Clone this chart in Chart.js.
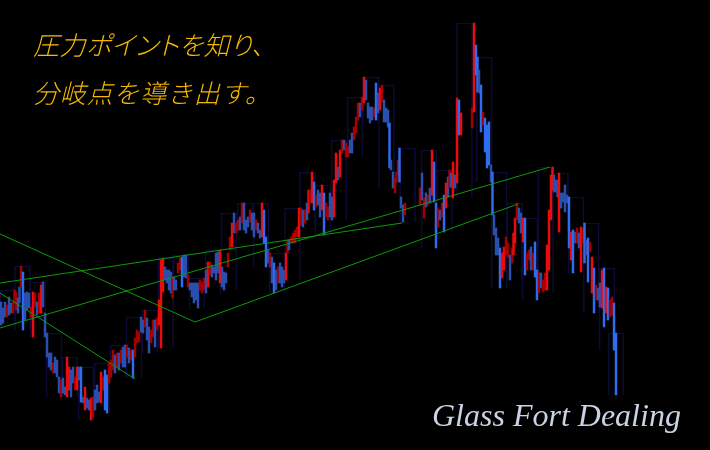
<!DOCTYPE html>
<html>
<head>
<meta charset="utf-8">
<script src="https://cdn.jsdelivr.net/npm/chart.js@4.4.1/dist/chart.umd.min.js"></script>
<style>
  html, body { margin: 0; padding: 0; background: #000; }
  #wrap { position: relative; width: 710px; height: 450px; overflow: hidden; background: #000; }
  canvas { position: absolute; left: 0; top: 0; }
  .jp { position: absolute; left: 33px; font-family: "Noto Sans CJK JP", sans-serif; font-style: italic;
        font-size: 26px; line-height: 26px; color: #f7b900; white-space: nowrap; font-weight: 300; }
  #l1 { top: 31px; font-feature-settings: "palt"; letter-spacing: 0.5px; }
  #l2 { top: 79px; letter-spacing: 0.8px; }
  #brand { position: absolute; left: 432px; top: 399px; font-family: "Liberation Serif", serif; font-style: italic;
           font-size: 32px; line-height: 32px; color: #c9d3e3; white-space: nowrap; }
</style>
</head>
<body>
<div id="wrap">
  <canvas id="c" width="710" height="450"></canvas>
  <div class="jp" id="l1">圧力ポイントを知り、</div>
  <div class="jp" id="l2">分岐点を導き出す。</div>
  <div id="brand">Glass Fort Dealing</div>
</div>
<script>
// time of each bar
const t = [1,3,5,7,9,11,13,14.5,16,18,19.5,21,23,25,27,29,31,33,35,37,39,41,43,45,47,49,51,53,55,57,
59,61,63,65,67,69,71,73,75,77,79,81,83,85,87,89,91,93,95,97,99,101,103,105,107,109,111,113,115,117,
119,121,123,125,127,129,131,133,135,137,139,141,143,145,147,149,151,153,155,157,159,161,163,165,167,169,171,172.5,174,176,
178,180,182,184,186,188,190,192,194,196,198,200,202,204,206,208,210,212,214,216,218,220,222,224,226,228,230,232,234,236,
238,240,242,244,246,248,250,252,254,256,258,260,262,264,266,268,270,272,274,276,278,280,282,284,286,287.5,289,291,293,295,
297,299,301,303,305,307,308.5,310,312,314,316,318,320,322,324,326,328,330,332,334,336,338,340,342,344,346,348,350,352,354,
356,358,360,362,364,366,368,370,372,374,376,378,380,382,384,386,388,389.5,391,393,395,396.5,398,399.5,401,403,405,
420,422,424,426,428,430,432,434,436,438,440,442,444,446,448,449.5,451,453,455,457,459,461,
472,474,476,477.5,479,481,483,485,487,489,491,492.5,494,496,498,500,502,504,506,508,510,512,513.5,515,517,519,521,523,525,527,
529,531,533,535,537,539,541,543,545,547,549,551,552.5,554,556,557.5,559,561,563,565,567,569,571,573,575,577,579,581,583,584.5,
586,588,590,592,594,596,598,600,602,604,606,608,610,612,614,616];

const opens = [148,142,148,133,153,147,137,147,140,152,163,163,178,157,158,157,133,113,143,148,137,137,168,137,117,97,97,77,93,90,
73,53,72,63,53,60,80,83,60,60,83,83,53,40,52,50,30,33,60,65,58,47,60,80,75,67,73,80,95,83,
97,87,103,105,93,102,90,100,93,107,108,133,130,123,132,123,107,113,130,120,125,102,158,183,180,180,178,152,173,170,
177,180,193,195,195,163,167,167,167,167,167,160,157,160,180,163,175,185,183,197,198,167,183,178,177,183,200,203,237,217,
220,233,227,247,230,233,228,237,237,220,227,220,213,240,213,200,183,193,187,180,167,187,183,180,170,197,210,207,207,207,
213,213,225,240,227,247,237,247,247,268,243,260,257,240,257,233,230,257,253,233,267,283,273,297,310,293,293,310,317,310,
317,330,347,340,347,370,347,343,343,333,367,357,340,348,350,342,340,327,290,278,257,268,275,302,253,245,235,
245,277,232,257,245,262,255,288,247,223,240,233,255,242,273,262,277,252,275,267,350,315,
322,338,405,393,380,365,325,332,325,328,285,278,235,222,212,202,172,180,195,193,195,187,195,207,230,242,237,208,232,180,
190,203,180,208,180,157,177,158,160,160,180,230,260,275,270,270,218,257,257,265,255,253,190,220,218,207,217,178,207,227,
210,212,198,157,182,150,162,167,142,182,137,162,133,135,147,117];

const closes = [125,127,133,145,135,137,148,160,158,137,147,184,120,130,140,142,143,158,157,135,157,165,143,113,93,83,80,87,77,73,
57,70,57,55,93,83,53,67,73,83,70,48,47,63,42,40,52,53,40,47,48,78,73,40,37,87,90,100,77,97,
80,100,83,83,105,87,100,72,112,120,118,118,117,140,110,97,120,130,103,132,150,190,192,170,167,160,157,173,160,160,
187,192,163,173,172,175,160,153,147,150,142,170,168,172,157,188,188,173,177,170,177,200,163,160,167,197,213,227,217,227,
230,220,247,220,217,223,240,220,213,230,217,212,247,207,183,187,197,167,157,160,183,167,163,167,197,210,200,213,217,220,
223,242,242,223,240,230,260,260,278,240,255,245,233,265,215,247,243,233,230,270,297,270,300,310,300,307,303,297,297,323,
333,347,333,353,373,350,332,327,330,342,330,337,362,365,328,328,323,282,280,262,272,278,290,268,242,228,247,
262,250,252,243,255,247,300,248,202,242,230,247,218,267,253,280,263,288,262,352,315,337,
342,427,375,358,357,318,338,298,282,285,268,235,215,195,195,162,197,203,213,207,170,202,217,232,247,227,217,232,175,197,
200,180,197,173,150,178,162,170,177,205,240,275,283,258,258,253,277,242,248,238,247,202,218,177,207,222,202,223,222,187,
195,168,208,193,137,165,150,143,180,123,163,130,150,153,100,55];

// hand-drawn trend lines: [time, price] end points
const lineA = [[0, 216], [195, 128]];
const lineB = [[195, 128], [518, 246]];
const lineC = [[0, 157], [135, 71]];
const lineE = [[0, 122], [550, 283]];
const lineF = [[0, 167], [402, 227]];

const candles = t.map((x, i) => ({ x: x, y: [opens[i], closes[i]] }));
const candleColors = t.map((x, i) => {
  const up = closes[i] >= opens[i];
  const h = Math.abs(closes[i] - opens[i]);
  if (up) return h >= 22 ? '#ee0a0a' : '#a50000';
  return h >= 28 ? '#2f6cf0' : '#2a4fae';
});

// higher-timeframe range boxes built from groups of 8 bars
const boxes = [];
for (let k = 0; k < t.length; k += 8) {
  const end = Math.min(k + 7, t.length - 1);
  let lo = Infinity, hi = -Infinity;
  for (let j = k; j <= end; j++) {
    lo = Math.min(lo, opens[j], closes[j]);
    hi = Math.max(hi, opens[j], closes[j]);
  }
  boxes.push({ x: (t[k] + t[end]) / 2, y: [lo, hi] });
}

const toPts = arr => arr.map(p => ({ x: p[0], y: p[1] }));
const lineDs = (arr) => ({
  type: 'line', data: toPts(arr), borderColor: '#0b9a0b', borderWidth: 1,
  pointRadius: 0, fill: false, order: 0, tension: 0
});

new Chart(document.getElementById('c'), {
  type: 'bar',
  data: {
    datasets: [
      lineDs(lineA), lineDs(lineB), lineDs(lineC), lineDs(lineE), lineDs(lineF),
      { type: 'bar', data: candles, backgroundColor: candleColors, barThickness: 1.8,
        grouped: false, order: 1, borderWidth: 0 },
      { type: 'bar', data: boxes, backgroundColor: 'rgba(0,0,0,0)', borderColor: '#0b0b36',
        borderWidth: 1, barThickness: 16, grouped: false, order: 2 }
    ]
  },
  options: {
    responsive: false,
    animation: false,
    layout: { padding: 0 },
    plugins: { legend: { display: false }, tooltip: { enabled: false }, title: { display: false } },
    scales: {
      x: { type: 'linear', min: 0, max: 710, display: false, offset: false, grid: { offset: false } },
      y: { type: 'linear', min: 0, max: 450, display: false }
    }
  }
});
</script>
</body>
</html>
